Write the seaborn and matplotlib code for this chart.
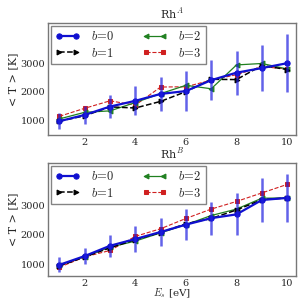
import numpy as np
import pandas as pd
import matplotlib
matplotlib.use("Agg")
import matplotlib.pyplot as plt
import seaborn as sns

# energias
E_s = [1, 2, 3, 4, 5, 6, 7, 8, 9, 10]

# Rh^A
A_b0 = [980, 1200, 1490, 1690, 1930, 2030, 2410, 2670, 2830, 3000]
A_b0_err = [280, 300, 400, 500, 600, 700, 700, 760, 800, 1000]
A_b1 = [980, 1170, 1480, 1440, 1670, 2010, 2440, 2430, 2920, 2780]
A_b2 = [1060, 1290, 1340, 1630, 1940, 2230, 2110, 2940, 2990, 2800]
A_b3 = [1150, 1430, 1690, 1540, 2170, 2180, 2410, 2600, 2880, 2800]

# Rh^B
B_b0 = [980, 1280, 1630, 1860, 2100, 2350, 2570, 2700, 3190, 3260]
B_b0_err = [260, 260, 370, 430, 470, 540, 560, 720, 760, 830]
B_b1 = [940, 1250, 1560, 1840, 2080, 2380, 2560, 2850, 3200, 3260]
B_b2 = [970, 1260, 1580, 1790, 2070, 2350, 2660, 2880, 3250, 3260]
B_b3 = [900, 1250, 1470, 1950, 2210, 2560, 2880, 3140, 3430, 3720]

paneles = [
    ("Rh$^A$", [A_b0, A_b1, A_b2, A_b3], A_b0_err, (500, 4400)),
    ("Rh$^B$", [B_b0, B_b1, B_b2, B_b3], B_b0_err, (600, 4450)),
]

estilos = [
    dict(color="#1010d0", marker="o", ls="-", lw=1.6, ms=3.8, z=5),
    dict(color="black", marker=">", ls="--", lw=1.1, ms=3.5, z=4),
    dict(color="#208020", marker="<", ls="-", lw=0.9, ms=3.5, z=3),
    dict(color="#d02020", marker="s", ls="--", lw=0.8, ms=3.0, z=2),
]

sns.set_theme(style="white")
plt.rcParams["font.family"] = ["DejaVu Serif"]
plt.rcParams["mathtext.fontset"] = "cm"

fig = plt.figure(figsize=(3.01, 3.0), dpi=100)
posiciones = [[48 / 301, 1 - 135 / 300, 248 / 301, 112 / 300],
              [48 / 301, 1 - 276 / 300, 248 / 301, 113 / 300]]

for (titulo, series, err, ylim), pos in zip(paneles, posiciones):
    ax = fig.add_axes(pos)
    for b, (vals, st) in enumerate(zip(series, estilos)):
        sns.lineplot(x=E_s, y=vals, ax=ax, color=st["color"], marker=st["marker"],
                     linestyle=st["ls"], linewidth=st["lw"], markersize=st["ms"],
                     markeredgecolor=st["color"], zorder=st["z"],
                     label=f"$b\\!=\\!{b}$")
    ax.errorbar(E_s, series[0], yerr=err, fmt="none", ecolor="#2020e0",
                elinewidth=1.8, alpha=0.7, zorder=6)
    ax.set_xlim(0.55, 10.35)
    ax.set_ylim(*ylim)
    ax.set_xticks([2, 4, 6, 8, 10])
    ax.set_yticks([1000, 2000, 3000])
    ax.tick_params(labelsize=7, direction="in", length=3, color="#666666", pad=2)
    for s in ax.spines.values():
        s.set_color("#777777")
        s.set_linewidth(1.0)
    ax.set_title(titulo, fontsize=8, pad=3)
    ax.set_ylabel("< T > [K]", fontsize=8, labelpad=2)
    ax.legend(loc="upper left", ncol=2, fontsize=9, frameon=True, fancybox=False,
              edgecolor="#666666", numpoints=2, handlelength=2.0, columnspacing=2.2,
              borderpad=0.35, labelspacing=0.3, handletextpad=0.9,
              borderaxespad=0.2)

ax.set_xlabel("$E_s$ [eV]", fontsize=7.5, labelpad=-1)

fig.savefig("out.png", dpi=100)
